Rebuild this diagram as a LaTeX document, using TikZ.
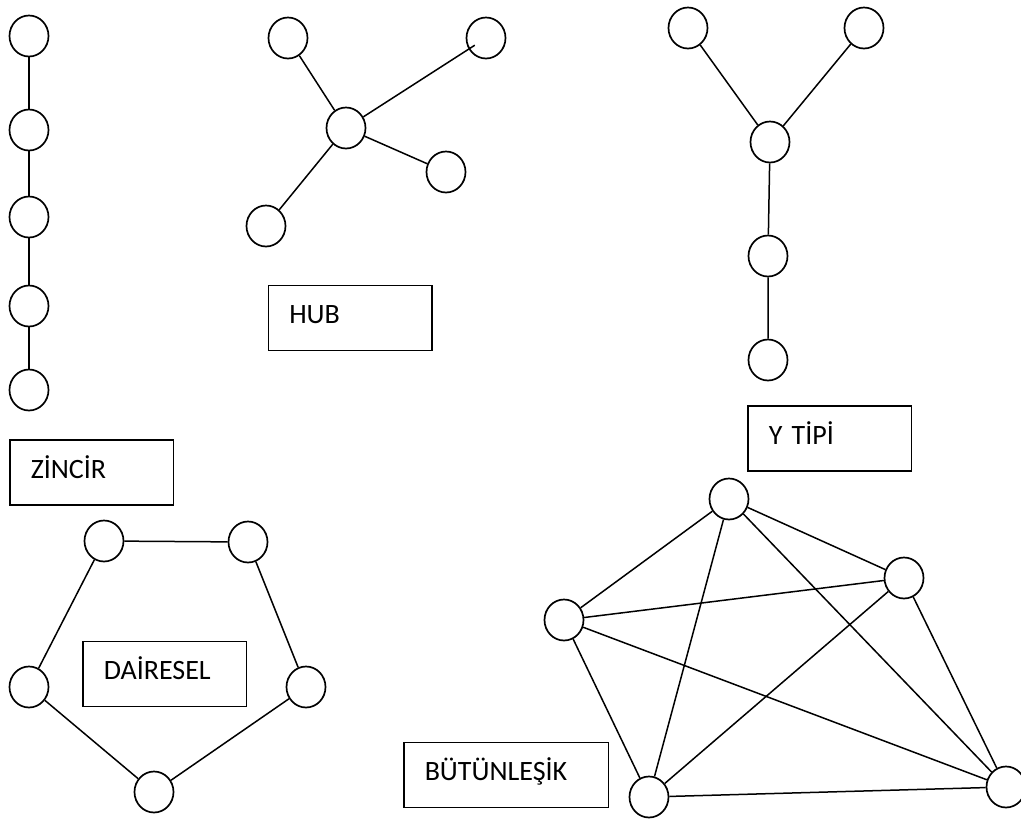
\documentclass[tikz,border=0pt]{standalone}
\usepackage{fontspec}
\setmainfont{Carlito}
\usetikzlibrary{shapes.geometric,calc}
\begin{document}
\begin{tikzpicture}[x=1pt,y=-1pt,
  vertex/.style={ellipse,draw,line width=1.7pt,minimum width=39pt,minimum height=41pt,inner sep=0pt},
  edge/.style={line width=1.5pt},
  tag/.style={draw,line width=1.5pt,inner xsep=21pt,inner ysep=0pt,align=left,
    minimum height=65pt,text height=11pt,text depth=0pt,font=\fontsize{28}{34}\selectfont},
  smalltag/.style={tag,text width=121.5pt},
  widetag/.style={tag,text width=162.5pt}]
\useasboundingbox (0,0) rectangle (1021,820);

% chain
\node[vertex] (z1) at (29,36) {};
\node[vertex] (z2) at (29,130) {};
\node[vertex] (z3) at (29,217) {};
\node[vertex] (z4) at (29,306) {};
\node[vertex] (z5) at (29,390) {};
\draw[edge] (z1) -- (z2) -- (z3) -- (z4) -- (z5);
\node[smalltag] (zlab) at (91.5,472.5) {ZİNCİR};

% hub
\node[vertex] (hc) at (346,128) {};
\node[vertex] (htl) at (288,38) {};
\node[vertex] (htr) at (486,38) {};
\node[vertex] (hr) at (446,172) {};
\node[vertex] (hbl) at (266,226) {};
\draw[edge] (hc) -- (htl);
\draw[edge] (hc) -- ($(htr.center)!0.08!(hc.center)$);
\draw[edge] (hc) -- (hr);
\draw[edge] (hc) -- (hbl);
\node[smalltag] (hlab) at (350,318) {HUB};

% Y shape
\node[vertex] (ytl) at (688,28) {};
\node[vertex] (ytr) at (864,28) {};
\node[vertex] (ym) at (770,142) {};
\node[vertex] (y4) at (768,256) {};
\node[vertex] (y5) at (768,360) {};
\draw[edge] (ytl) -- (ym);
\draw[edge] (ytr) -- (ym);
\draw[edge] (ym) -- (y4) -- (y5);
\node[smalltag] (ylab) at (829.5,438.5) {Y TİPİ};

% ring
\node[vertex] (dtl) at (104,541) {};
\node[vertex] (dtr) at (248,542) {};
\node[vertex] (dr) at (306,687) {};
\node[vertex] (db) at (154,792) {};
\node[vertex] (dl) at (29,687) {};
\draw[edge] (dtl) -- (dtr) -- (dr) -- (db) -- (dl) -- (dtl);
\node[smalltag] (dlab) at (164.5,674) {DAİRESEL};

% complete graph
\node[vertex] (bt) at (729,499) {};
\node[vertex] (br) at (904,578) {};
\node[vertex] (bl) at (564,620) {};
\node[vertex] (bbl) at (649,797) {};
\node[vertex] (bbr) at (1006,787) {};
\draw[edge] (bt) -- (br);
\draw[edge] (bt) -- (bl);
\draw[edge] (bt) -- (bbl);
\draw[edge] (bt) -- (bbr);
\draw[edge] (br) -- (bl);
\draw[edge] (br) -- (bbl);
\draw[edge] (br) -- (bbr);
\draw[edge] (bl) -- (bbl);
\draw[edge] (bl) -- (bbr);
\draw[edge] (bbl) -- (bbr);
\node[widetag] (blab) at (506,775) {BÜTÜNLEŞİK};
\end{tikzpicture}
\end{document}
